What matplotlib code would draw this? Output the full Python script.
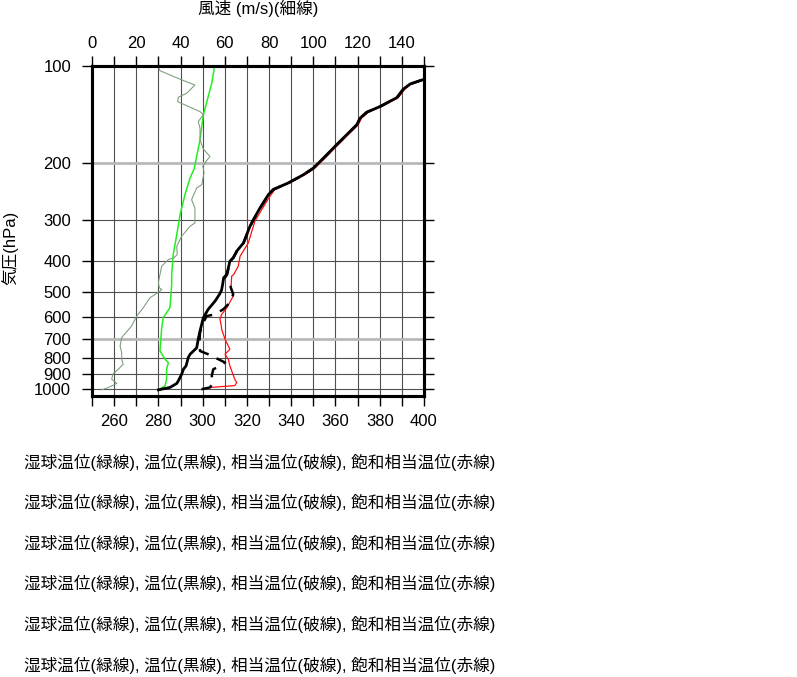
import numpy as np
import matplotlib
matplotlib.use("Agg")
import matplotlib.pyplot as plt
from matplotlib.ticker import FixedLocator, NullLocator, NullFormatter

plt.rcParams['font.family'] = ['Liberation Sans', 'Noto Sans CJK JP', 'DejaVu Sans']

# ---------------- data ----------------
# wind speed (m/s), thin grey-green line
p_wind = [100.9, 103.4, 109.9, 114.5, 121.4, 124.9, 128.9, 131, 138.4, 141.7, 148.6, 155.7,
          169.2, 180.7, 190.5, 197.4, 204.6, 206.9, 214.4, 232.9, 238.5, 259.3, 275.0, 305.9,
          313.3, 336.3, 361.2, 383.1, 392.2, 397.0, 416.4, 452.1, 468.5, 485.5, 491.4, 499.5,
          521.2, 559.5, 594.0, 637.7, 692.6, 735.2, 770.5, 808.1, 837.3, 867.6, 899.0, 931.5,
          960.3, 988.0, 1005]
wind_speed = [30.0, 30.7, 39.8, 46.5, 42.8, 39.0, 38.7, 41.0, 48.8, 50.3, 48.0, 48.8,
              48.8, 50.3, 53.3, 51.5, 50.0, 50.3, 50.6, 49.6, 47.3, 45.0, 46.5, 46.5,
              44.3, 40.5, 38.3, 38.5, 37.0, 34.5, 31.5, 30.4, 30.0, 30.4, 31.5, 30.4,
              26.2, 23.2, 20.2, 17.9, 13.4, 12.7, 13.4, 13.4, 14.1, 11.9, 9.4, 8.9,
              11.2, 7.4, 4.4]

# wet-bulb potential temperature (K), green
p_wet = [100.9, 113.1, 124.4, 141.7, 169.2, 190.5, 208.4, 222.2, 250.2, 288.3, 332.3, 383.1,
         441.7, 474.3, 509.1, 559.5, 600.8, 645.0, 761.8, 808.1, 827.3, 867.6, 931.5, 976.8, 1005]
theta_w = [305.3, 304.1, 302.5, 300.3, 298.8, 297.3, 296.1, 294.3, 292.0, 289.8, 288.3, 286.7,
           286.0, 286.0, 285.7, 285.2, 282.2, 281.5, 280.7, 283.0, 284.5, 283.7, 283.7, 283.0, 280.0]

# potential temperature (K), thick black
p_theta = [110.5, 113.7, 118, 125.3, 133.5, 139, 145, 152, 175, 193, 207, 217, 230, 241, 250,
           275, 299, 313, 353, 374, 392, 402, 442, 452, 475, 495, 510, 534, 566, 601, 661, 700,
           745, 780, 798, 847, 868, 899, 943, 960, 981, 988, 1005]
theta = [399.0, 393.7, 390.6, 387.7, 380.1, 374.1, 371.1, 369.6, 360.6, 354.5, 350.0, 345.5,
         338.7, 331.9, 329.7, 325.9, 322.9, 321.4, 318.4, 315.4, 313.8, 312.3, 310.9, 309.5,
         309.0, 308.5, 307.5, 305.6, 302.5, 300.3, 298.8, 298.0, 297.3, 294.3, 293.5, 292.5,
         291.3, 290.5, 289.0, 288.3, 286.0, 285.2, 280.0]

# equivalent potential temperature (K), dashed black
p_thetae = [110.5, 113.7, 118, 125.3, 133.5, 139, 145, 152, 175, 193, 207, 217, 230, 241, 250,
            275, 299, 313, 353, 374, 392, 402, 442, 452, 480, 509, 540, 566, 587, 594, 622, 668,
            718, 762, 780, 808, 827, 847, 868, 910, 954, 988, 1000, 1003]
theta_e = [399.1, 393.8, 390.7, 387.8, 380.2, 374.2, 371.2, 369.7, 360.7, 354.6, 350.1, 345.6,
           338.8, 332.0, 329.8, 326.0, 323.0, 321.5, 318.5, 315.5, 313.9, 312.4, 311.0, 310.0,
           312.5, 313.8, 312.3, 309.3, 305.6, 301.8, 300.3, 298.8, 298.5, 298.8, 302.5, 307.1,
           310.1, 307.8, 304.8, 304.1, 304.8, 303.3, 299.6, 295.8]

# saturated equivalent potential temperature (K), red
p_thetaes = [110.5, 113.7, 118, 125.3, 133.5, 139, 145, 152, 175, 193, 207, 217, 230, 241, 253,
             278, 302, 353, 388, 416, 442, 447, 486, 515, 535, 560, 587, 608, 630, 653, 701, 752,
             780, 808, 848, 932, 955, 975, 981, 988, 1003]
theta_es = [399.6, 394.3, 391.3, 388.4, 380.8, 374.8, 371.8, 370.3, 361.3, 355.2, 350.7, 346.2,
            339.4, 332.6, 330.4, 326.7, 323.6, 320.6, 316.9, 316.1, 314.0, 313.1, 312.8, 313.8,
            312.5, 310.9, 308.6, 307.8, 308.3, 308.6, 310.1, 312.3, 310.1, 311.6, 312.3, 314.5,
            315.4, 314.5, 309.3, 303.3, 299.6]

p_levels = [100, 200, 300, 400, 500, 600, 700, 800, 900, 1000]
p_labels = ['100', '200', '300', '400', '500', '600', '700', '800', '900', '1000']
light_levels = [200, 700]
temp_ticks = [260, 280, 300, 320, 340, 360, 380, 400]
temp_minor = list(range(250, 401, 10))
wind_ticks = [0, 20, 40, 60, 80, 100, 120, 140]
wind_minor = list(range(0, 151, 10))

caption = "湿球温位(緑線), 温位(黒線), 相当温位(破線), 飽和相当温位(赤線)"

# ---------------- figure ----------------
W, H = 797, 677
fig = plt.figure(figsize=(W / 100, H / 100), dpi=100)
ax = fig.add_axes([92 / W, (H - 396) / H, 332 / W, 330 / H])

ax.set_yscale('log')
ax.set_ylim(1050, 100)
ax.set_xlim(250, 400)

# grid
for t in temp_minor[1:-1]:
    ax.axvline(t, color='#505050', lw=0.8, zorder=1)
for p in p_levels:
    if p in light_levels:
        ax.axhline(p, color='#b8b8b8', lw=2.0, zorder=1)
    else:
        ax.axhline(p, color='#505050', lw=0.8, zorder=1)

ax.plot(theta_w, p_wet, color='#22ee22', lw=1.1, zorder=3)
ax.plot(theta_es, p_thetaes, color='#ff1010', lw=0.9, zorder=3)
ax.plot(theta_e, p_thetae, color='black', lw=1.8, dashes=(4.5, 3.5), zorder=4)
ax.plot(theta, p_theta, color='black', lw=2.0, zorder=5)

ax.yaxis.set_major_locator(FixedLocator(p_levels))
ax.set_yticklabels(p_labels)
ax.yaxis.set_minor_locator(NullLocator())
ax.yaxis.set_minor_formatter(NullFormatter())
ax.set_xticks(temp_ticks)
ax.set_xticklabels([str(t) for t in temp_ticks])
ax.xaxis.set_minor_locator(FixedLocator(temp_minor))
ax.tick_params(axis='y', which='both', left=True, right=True, direction='out',
               length=7, width=1, labelsize=12, pad=8)
ax.tick_params(axis='x', which='both', bottom=True, top=False, direction='out',
               length=7, width=1, labelsize=12, pad=6)

ax2 = ax.twiny()
ax2.set_xlim(0, 150)
ax2.plot(wind_speed, p_wind, color='#7a9a7a', lw=0.75, zorder=2)
ax2.set_xticks(wind_ticks)
ax2.set_xticklabels([str(w) for w in wind_ticks])
ax2.xaxis.set_minor_locator(FixedLocator(wind_minor))
ax2.tick_params(axis='x', which='both', top=True, bottom=False, direction='out',
                length=7, width=1, labelsize=12, pad=4)

for a in (ax, ax2):
    for s in a.spines.values():
        s.set_linewidth(2.2)
        s.set_color('black')

fig.text(258 / W, 1 - 8 / H, "風速 (m/s)(細線)", ha='center', va='center', fontsize=12)
fig.text(10 / W, 1 - 248 / H, "気圧(hPa)", ha='center', va='center', rotation=90, fontsize=12)

for yy in [462, 502, 543, 583, 624, 665]:
    fig.text(24 / W, 1 - yy / H, caption, ha='left', va='center', fontsize=12)

fig.savefig("out.png", dpi=100)
